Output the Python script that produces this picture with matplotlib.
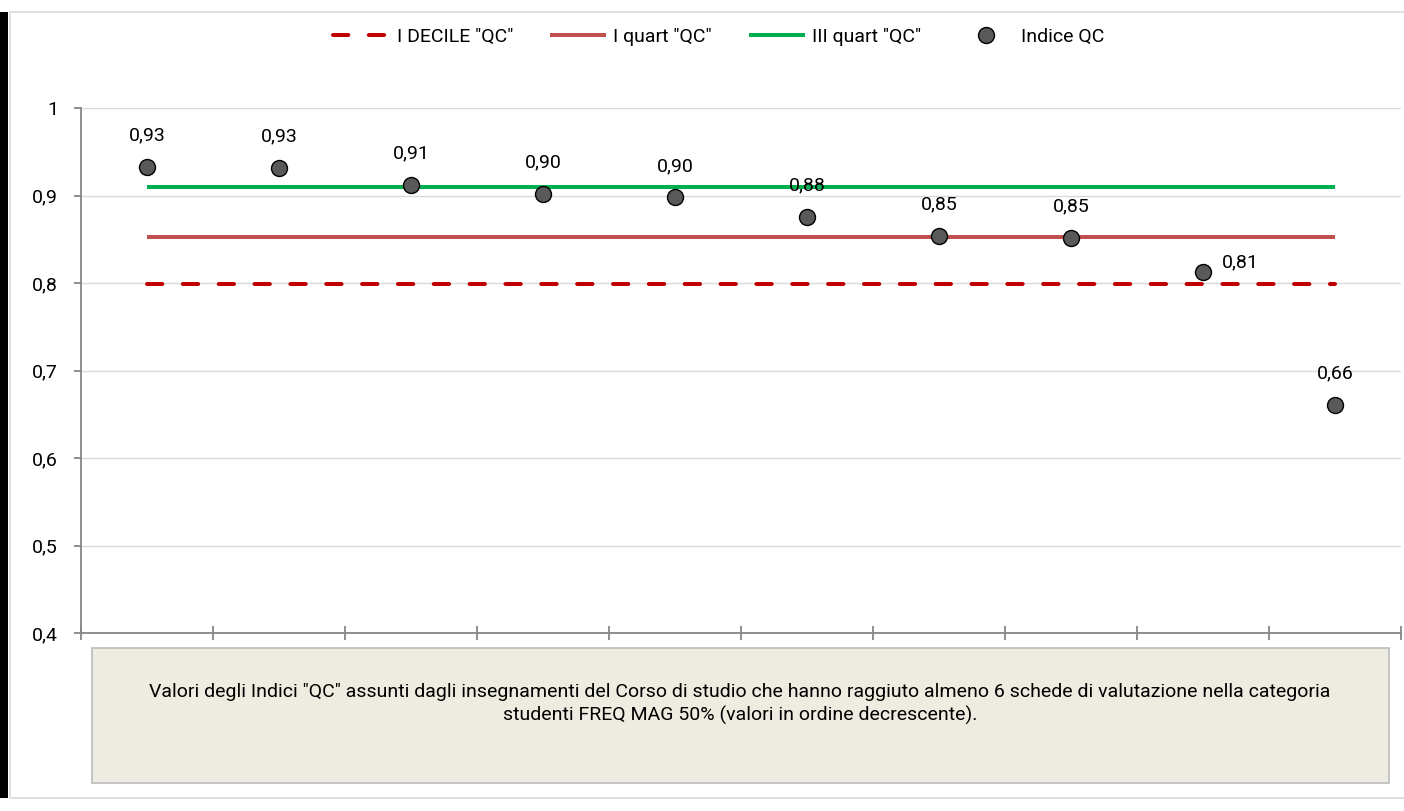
import numpy as np
import matplotlib
matplotlib.use("Agg")
import matplotlib.pyplot as plt
from matplotlib.patches import Rectangle
from matplotlib.ticker import FuncFormatter, FixedLocator

plt.rcParams['font.family'] = ['Roboto', 'DejaVu Sans']

# dati
insegnamenti = list(range(10))
indice_qc = [0.933, 0.932, 0.912, 0.902, 0.898, 0.876, 0.854, 0.852, 0.813, 0.661]
etichette = ['0,93', '0,93', '0,91', '0,90', '0,90', '0,88', '0,85', '0,85', '0,81', '0,66']
decile_1 = [0.799] * 10
quart_1 = [0.853] * 10
quart_3 = [0.910] * 10

W, H = 1404, 811
fig = plt.figure(figsize=(W / 100, H / 100), dpi=100)

# cornice esterna
fig.patches.append(Rectangle((9.5 / W, 1 - 798 / H), 1.0, (798 - 12) / H, transform=fig.transFigure,
                             facecolor='none', edgecolor='#D9D9D9', lw=1.2, zorder=-2))
fig.patches.append(Rectangle((0, 1 - 798 / H), 8 / W, (798 - 12) / H, transform=fig.transFigure,
                             facecolor='black', edgecolor='none', zorder=-1))

ax = fig.add_axes([81 / W, 1 - 633 / H, (1401 - 81) / W, (633 - 108) / H])
ax.set_facecolor('none')

x = np.array(insegnamenti)
l1, = ax.plot(x, decile_1, color='#C00000', lw=2.9, linestyle=(0, (3.8, 5.1)),
              dash_capstyle='round', label='I DECILE "QC"', zorder=3)
l2, = ax.plot(x, quart_1, color='#C0504D', lw=2.9, solid_capstyle='butt', label='I quart "QC"', zorder=3)
l3, = ax.plot(x, quart_3, color='#00B050', lw=2.9, solid_capstyle='butt', label='III quart "QC"', zorder=3)
l4, = ax.plot(x, indice_qc, linestyle='none', marker='o', markersize=11.5, markerfacecolor='#595959',
              markeredgecolor='black', markeredgewidth=1.0, label='Indice QC', zorder=4)

for i, (v, t) in enumerate(zip(indice_qc, etichette)):
    if i == 8:
        off = (27, 6.5)
    else:
        off = (0, 22.5)
    ax.annotate(t, (x[i], v), xytext=off, textcoords='offset points', ha='center', va='center',
                fontsize=14, color='black', zorder=5)

ax.set_xlim(-0.5, 9.5)
ax.set_ylim(0.4, 1.0)
ax.yaxis.set_major_locator(FixedLocator([0.4, 0.5, 0.6, 0.7, 0.8, 0.9, 1.0]))
ax.yaxis.set_major_formatter(FuncFormatter(lambda v, p: ('%g' % round(v, 1)).replace('.', ',')))
ax.xaxis.set_major_locator(FixedLocator(np.arange(-0.5, 10, 1)))
ax.set_xticklabels([])
ax.grid(axis='y', color='#D9D9D9', lw=1.0, zorder=0)
ax.set_axisbelow(True)
for s in ['top', 'right']:
    ax.spines[s].set_visible(False)
for s in ['left', 'bottom']:
    ax.spines[s].set_color('#868686')
    ax.spines[s].set_linewidth(1.3)
ax.tick_params(axis='x', direction='inout', length=10, width=1.3, color='#868686')
ax.tick_params(axis='y', direction='out', length=5, width=1.3, color='#868686', labelsize=14,
               pad=11.5, labelcolor='black')

fig.legend(handles=[l1, l2, l3, l4], loc='center', bbox_to_anchor=(719 / W, 1 - 37 / H), ncol=4,
           frameon=False, fontsize=14, handlelength=2.9, handletextpad=0.35, columnspacing=1.9)

# riquadro descrittivo
fig.patches.append(Rectangle((92 / W, 1 - 783 / H), (1389 - 92) / W, (783 - 648) / H,
                             transform=fig.transFigure, facecolor='#EEECE1', edgecolor='#BFBFBF',
                             lw=1.3, zorder=2))
fig.text(740 / W, 1 - 704 / H,
         'Valori degli Indici "QC" assunti dagli insegnamenti del Corso di studio che hanno raggiuto almeno 6 schede di valutazione nella categoria\n'
         'studenti FREQ MAG 50% (valori in ordine decrescente).',
         ha='center', va='center', fontsize=14, linespacing=1.35, color='black', zorder=3)

fig.savefig('out.png', dpi=100)
